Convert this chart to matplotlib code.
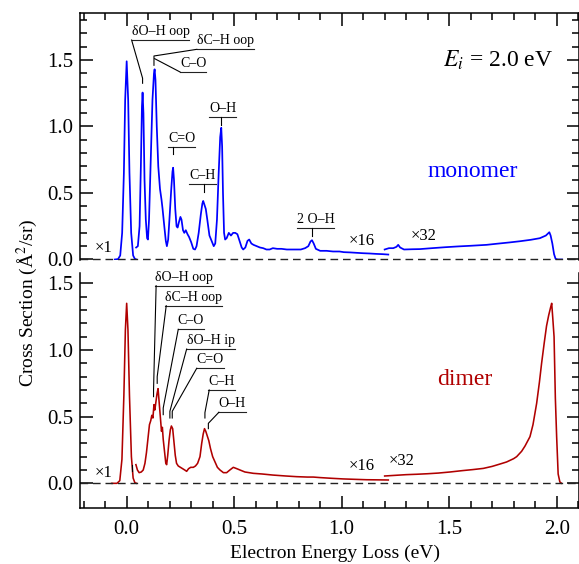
import matplotlib.pyplot as plt
from matplotlib.ticker import MultipleLocator, FixedLocator, FormatStrFormatter

plt.rcParams['font.family'] = ['Liberation Serif', 'DejaVu Serif']
plt.rcParams['mathtext.fontset'] = 'stix'

# monomer (blue) - three pieces: x1 elastic, low-loss, x32 part
mono_e0 = [-0.055, -0.040, -0.030, -0.021, -0.013, -0.007, 0.0, 0.007, 0.013, 0.021, 0.030, 0.038, 0.045]
mono_s0 = [0.0, 0.003, 0.03, 0.2, 0.65, 1.2, 1.49, 1.2, 0.65, 0.2, 0.03, 0.005, 0.0]

mono_e1 = [0.044, 0.052, 0.060, 0.066, 0.071, 0.074, 0.078, 0.083, 0.089, 0.095, 0.099, 0.104,
           0.112, 0.120, 0.127, 0.130, 0.134, 0.140, 0.147, 0.155, 0.162, 0.167, 0.175, 0.182,
           0.187, 0.193, 0.200, 0.207, 0.213, 0.216, 0.220, 0.226, 0.232, 0.237, 0.243, 0.250,
           0.255, 0.262, 0.268, 0.275, 0.283, 0.290, 0.300, 0.310, 0.318, 0.325, 0.335, 0.345,
           0.352, 0.356, 0.362, 0.368, 0.375, 0.385, 0.395, 0.405, 0.412, 0.420, 0.428, 0.435,
           0.440, 0.444, 0.448, 0.453, 0.458, 0.465, 0.475, 0.485, 0.495, 0.505, 0.515, 0.525,
           0.535, 0.542, 0.552, 0.562, 0.570, 0.580, 0.590, 0.605, 0.620, 0.635, 0.650, 0.665,
           0.680, 0.700, 0.720, 0.745, 0.770, 0.790, 0.810, 0.830, 0.845, 0.855, 0.862, 0.870,
           0.880, 0.900, 0.930, 0.960, 0.990, 1.010, 1.040, 1.070, 1.100, 1.130, 1.160, 1.190, 1.217]
mono_s1 = [0.09, 0.10, 0.25, 0.70, 1.15, 1.255, 1.10, 0.60, 0.30, 0.16, 0.15, 0.30,
           0.75, 1.20, 1.40, 1.43, 1.35, 1.00, 0.70, 0.53, 0.45, 0.38, 0.25, 0.14,
           0.10, 0.15, 0.33, 0.52, 0.66, 0.69, 0.60, 0.38, 0.25, 0.24, 0.28, 0.32,
           0.30, 0.22, 0.20, 0.22, 0.19, 0.17, 0.13, 0.08, 0.075, 0.10, 0.20, 0.34,
           0.42, 0.44, 0.41, 0.38, 0.30, 0.18, 0.14, 0.10, 0.12, 0.30, 0.65, 0.92,
           0.99, 0.85, 0.50, 0.20, 0.15, 0.16, 0.20, 0.18, 0.20, 0.20, 0.19, 0.14,
           0.09, 0.075, 0.09, 0.14, 0.15, 0.12, 0.11, 0.10, 0.09, 0.085, 0.075, 0.075,
           0.085, 0.08, 0.08, 0.075, 0.075, 0.075, 0.075, 0.085, 0.10, 0.135, 0.145, 0.12,
           0.08, 0.065, 0.065, 0.06, 0.06, 0.055, 0.053, 0.05, 0.047, 0.045, 0.042, 0.04, 0.037]

mono_e2 = [1.200, 1.220, 1.240, 1.255, 1.263, 1.272, 1.290, 1.330, 1.364, 1.420, 1.480, 1.540,
           1.600, 1.674, 1.720, 1.780, 1.829, 1.880, 1.922, 1.950, 1.966, 1.972, 1.980, 1.988,
           1.995, 2.005, 2.025]
mono_s2 = [0.075, 0.085, 0.085, 0.095, 0.11, 0.09, 0.075, 0.077, 0.078, 0.085, 0.092, 0.098,
           0.103, 0.11, 0.118, 0.128, 0.137, 0.148, 0.16, 0.18, 0.205, 0.18, 0.12, 0.04,
           0.005, 0.0, 0.0]

# dimer (red)
dim_e0 = [-0.070, -0.045, -0.032, -0.022, -0.013, -0.006, 0.0, 0.006, 0.013, 0.022, 0.030, 0.038, 0.046]
dim_s0 = [0.0, 0.0, 0.02, 0.18, 0.66, 1.15, 1.35, 1.15, 0.66, 0.2, 0.04, 0.005, 0.0]

dim_e1 = [0.043, 0.050, 0.058, 0.068, 0.077, 0.085, 0.092, 0.100, 0.106, 0.112, 0.117, 0.122,
          0.127, 0.131, 0.136, 0.141, 0.146, 0.150, 0.154, 0.158, 0.162, 0.166, 0.170, 0.176,
          0.182, 0.186, 0.191, 0.197, 0.203, 0.208, 0.214, 0.220, 0.226, 0.232, 0.240, 0.250,
          0.260, 0.270, 0.279, 0.288, 0.298, 0.310, 0.320, 0.330, 0.341, 0.349, 0.356, 0.362,
          0.368, 0.374, 0.382, 0.390, 0.400, 0.411, 0.422, 0.434, 0.450, 0.465, 0.480, 0.496,
          0.512, 0.527, 0.550, 0.589, 0.630, 0.680, 0.740, 0.790, 0.840, 0.868, 0.900, 0.950,
          1.007, 1.060, 1.116, 1.170, 1.217]
dim_s1 = [0.14, 0.10, 0.08, 0.085, 0.10, 0.15, 0.23, 0.35, 0.44, 0.47, 0.51, 0.49,
          0.59, 0.55, 0.61, 0.67, 0.71, 0.63, 0.55, 0.47, 0.39, 0.42, 0.33, 0.24,
          0.15, 0.14, 0.21, 0.32, 0.40, 0.43, 0.41, 0.31, 0.21, 0.15, 0.13, 0.12,
          0.11, 0.10, 0.09, 0.11, 0.12, 0.12, 0.13, 0.15, 0.20, 0.30, 0.37, 0.41,
          0.39, 0.36, 0.32, 0.26, 0.20, 0.16, 0.12, 0.10, 0.08, 0.08, 0.10, 0.12,
          0.11, 0.10, 0.085, 0.075, 0.07, 0.062, 0.055, 0.05, 0.047, 0.047, 0.043, 0.038,
          0.033, 0.03, 0.027, 0.026, 0.025]

dim_e2 = [1.200, 1.250, 1.300, 1.349, 1.400, 1.450, 1.504, 1.560, 1.610, 1.659, 1.700, 1.737,
          1.767, 1.800, 1.814, 1.837, 1.853, 1.876, 1.890, 1.907, 1.920, 1.930, 1.942, 1.953,
          1.963, 1.972, 1.977, 1.982, 1.988, 1.994, 2.000, 2.007, 2.015, 2.023]
dim_s2 = [0.055, 0.06, 0.065, 0.068, 0.072, 0.077, 0.085, 0.095, 0.103, 0.112, 0.127, 0.145,
          0.16, 0.185, 0.20, 0.24, 0.28, 0.35, 0.44, 0.60, 0.76, 0.90, 1.05, 1.18,
          1.26, 1.32, 1.35, 1.24, 1.10, 0.64, 0.35, 0.07, 0.01, 0.0]

blue = '#0000ff'
red = '#b00000'

fig = plt.figure(figsize=(5.79, 5.64), dpi=100)
ax1 = fig.add_axes([0.1382, 0.5390, 0.8618, 0.4379])
ax2 = fig.add_axes([0.1382, 0.0993, 0.8618, 0.4161])

for e, s in [(mono_e0, mono_s0), (mono_e1, mono_s1), (mono_e2, mono_s2)]:
    ax1.plot(e, s, color=blue, lw=1.25)
for e, s in [(dim_e0, dim_s0), (dim_e1, dim_s1), (dim_e2, dim_s2)]:
    ax2.plot(e, s, color=red, lw=1.15)

for ax in (ax1, ax2):
    ax.axhline(0, color='#222222', lw=1, ls=(0, (5.5, 3.5)), clip_on=False)
    ax.set_xlim(-0.217, 2.104)
    ax.xaxis.set_major_locator(MultipleLocator(0.5))
    ax.xaxis.set_minor_locator(MultipleLocator(0.1))
    ax.yaxis.set_major_locator(FixedLocator([0.0, 0.5, 1.0, 1.5]))
    ax.yaxis.set_major_formatter(FormatStrFormatter('%.1f'))
    ax.xaxis.set_major_formatter(FormatStrFormatter('%.1f'))
    ax.tick_params(which='both', direction='in', left=True, right=True, width=1.1,
                   labelsize=15, colors='black')
    ax.tick_params(which='major', length=9)
    ax.tick_params(which='minor', length=5)
    ax.tick_params(axis='y', pad=5)
    for sp in ax.spines.values():
        sp.set_linewidth(1.1)

ax1.set_ylim(-0.004, 1.853)
ax2.set_ylim(-0.185, 1.575)
ax1.yaxis.set_minor_locator(FixedLocator([i / 10 for i in range(0, 19)]))
ax2.yaxis.set_minor_locator(FixedLocator([i / 10 for i in range(0, 16)]))
ax1.spines['bottom'].set_visible(False)
ax2.spines['top'].set_visible(False)
ax1.tick_params(axis='x', which='both', top=True, bottom=False, labelbottom=False)
ax2.tick_params(axis='x', which='both', top=False, bottom=True, pad=9)

fig.text(0.048, 0.464, 'Cross Section (Å$^2$/sr)', rotation=90, ha='center', va='center', fontsize=14)
fig.text(0.579, 0.019, 'Electron Energy Loss (eV)', ha='center', va='center', fontsize=14)

ax1.text(1.727, 1.50, r'$E_i$ = 2.0 eV', ha='center', va='center', fontsize=17)
ax1.text(1.611, 0.66, 'monomer', color=blue, ha='center', va='center', fontsize=17)
ax2.text(1.574, 0.78, 'dimer', color=red, ha='center', va='center', fontsize=17)

for ax, items in [(ax1, [('×1', -0.147, 0.09), ('×16', 1.035, 0.137), ('×32', 1.322, 0.18)]),
                  (ax2, [('×1', -0.147, 0.077), ('×16', 1.035, 0.13), ('×32', 1.221, 0.17)])]:
    for t, x, y in items:
        ax.text(x, y, t, ha='left', va='center', fontsize=12)

# peak labels: text, left x, underline y, leader points
top_labels = [
    ('δO–H oop', 0.023, 1.65, [(0.023, 1.65), (0.074, 1.363), (0.074, 1.325)]),
    ('δC–H oop', 0.326, 1.58, [(0.326, 1.58), (0.127, 1.53), (0.127, 1.46)]),
    ('C–O', 0.248, 1.41, [(0.248, 1.41), (0.130, 1.51)]),
    ('C=O', 0.193, 0.845, [(0.215, 0.845), (0.215, 0.79)]),
    ('C–H', 0.291, 0.57, [(0.361, 0.57), (0.361, 0.51)]),
    ('O–H', 0.384, 1.07, [(0.440, 1.07), (0.440, 1.01)]),
    ('2 O–H', 0.791, 0.238, [(0.863, 0.238), (0.863, 0.18)]),
]
bot_labels = [
    ('δO–H oop', 0.132, 1.482, [(0.137, 1.482), (0.125, 0.70), (0.125, 0.65)]),
    ('δC–H oop', 0.178, 1.332, [(0.184, 1.332), (0.142, 0.80), (0.142, 0.75)]),
    ('C–O', 0.237, 1.155, [(0.240, 1.155), (0.170, 0.565), (0.170, 0.515)]),
    ('δO–H ip', 0.279, 1.007, [(0.279, 1.007), (0.201, 0.54), (0.201, 0.49)]),
    ('C=O', 0.326, 0.863, [(0.326, 0.863), (0.212, 0.54), (0.212, 0.49)]),
    ('C–H', 0.380, 0.70, [(0.384, 0.70), (0.364, 0.53), (0.364, 0.49)]),
    ('O–H', 0.426, 0.533, [(0.429, 0.533), (0.380, 0.45), (0.380, 0.41)]),
    ('', 0.025, 0.14, [(0.025, 0.14), (0.025, 0.09)]),
]

fig.canvas.draw()
for ax, labels in [(ax1, top_labels), (ax2, bot_labels)]:
    inv = ax.transData.inverted()
    for t, x, y, pts in labels:
        if t:
            txt = ax.annotate(t, (x, y), xytext=(0, 1.5), textcoords='offset points',
                              ha='left', va='bottom', fontsize=10)
            bb = txt.get_window_extent(renderer=fig.canvas.get_renderer())
            x1 = inv.transform((bb.x1, bb.y0))[0]
            ax.plot([x, x1], [y, y], color='#222222', lw=0.8)
        ax.plot([p[0] for p in pts], [p[1] for p in pts], color='black', lw=0.8)

fig.savefig('out.png', dpi=100)
